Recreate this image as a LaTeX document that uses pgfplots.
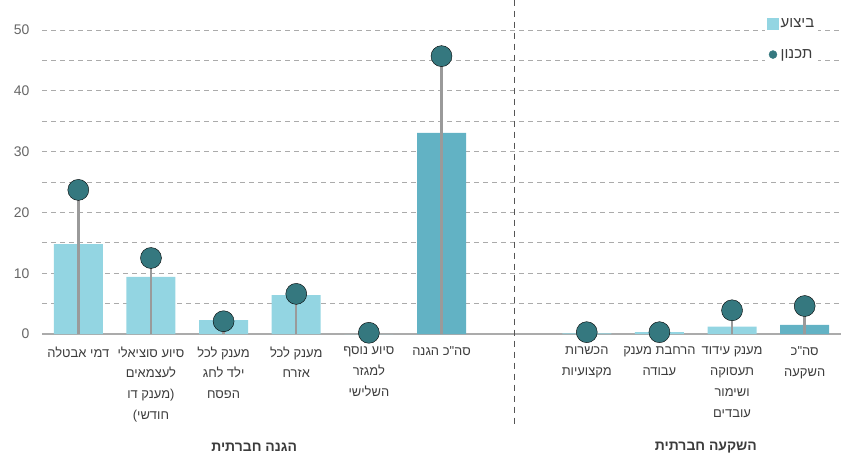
\documentclass[border=0pt]{standalone}
\usepackage{fontspec}
\setmainfont{Liberation Sans}
\newfontfamily\hebfont[Script=Hebrew]{Liberation Sans}
\TeXXeTstate=1
\usepackage{pgfplots}
\pgfplotsset{compat=1.18}
\newcommand\heb[1]{{\hebfont\beginR #1\endR}}
\definecolor{barlight}{HTML}{93D5E2}
\definecolor{bardark}{HTML}{62B2C4}
\definecolor{dotcol}{HTML}{35787F}
\definecolor{stemcol}{HTML}{9A9A9A}
\definecolor{gridcol}{HTML}{ABABAB}
\definecolor{ticktext}{HTML}{666666}
\definecolor{labtext}{HTML}{3C3C3C}
\definecolor{sepcol}{HTML}{555555}

\begin{document}
\begin{tikzpicture}
\useasboundingbox (-42bp,-125bp) rectangle (799bp,334bp);
\begin{axis}[
    scale only axis,
    width=799bp, height=304bp,
    xmin=-0.5, xmax=10.5,
    ymin=0, ymax=50,
    clip=false,
    axis x line*=bottom,
    axis y line*=left,
    y axis line style={draw=none},
    x axis line style={gridcol, line width=1.5bp},
    ytick={0,10,...,50},
    minor ytick={5,15,...,45},
    ymajorgrids, yminorgrids,
    major grid style={gridcol, dash pattern=on 5bp off 4bp, line width=0.8bp},
    minor grid style={gridcol, dash pattern=on 5bp off 4bp, line width=0.8bp},
    major tick length=0pt, minor tick length=0pt,
    /pgf/number format/assume math mode=true,
    yticklabel style={text=ticktext, font=\fontsize{14}{16}\selectfont, xshift=-9bp},
    xtick={0,1,2,3,4,5,7,8,9,10},
    xticklabels={
        {\heb{דמי אבטלה}},
        {\heb{סיוע סוציאלי}\\\heb{לעצמאים}\\\heb{(מענק דו}\\\heb{חודשי)}},
        {\heb{מענק לכל}\\\heb{ילד לחג}\\\heb{הפסח}},
        {\heb{מענק לכל}\\\heb{אזרח}},
        {\heb{סיוע נוסף}\\\heb{למגזר}\\\heb{השלישי}},
        {\heb{סה"כ הגנה}},
        {\heb{הכשרות}\\\heb{מקצועיות}},
        {\heb{הרחבת מענק}\\\heb{עבודה}},
        {\heb{מענק עידוד}\\\heb{תעסוקה}\\\heb{ושימור}\\\heb{עובדים}},
        {\heb{סה"כ}\\\heb{השקעה}}
    },
    xticklabel style={align=center, text=labtext, anchor=north, yshift=-9bp,
        font=\fontsize{13}{21}\selectfont},
    legend style={at={(0.905,1.052)}, anchor=north west, draw=none, fill=white,
        font=\fontsize{15}{17}\selectfont, text=labtext, row sep=17bp,
        inner sep=2bp},
    legend cell align=left,
]
\addlegendimage{legend image code/.code={\fill[barlight] (0bp,-5.5bp) rectangle (11bp,5.5bp);}}
\addlegendentry{\heb{ביצוע}}
\addlegendimage{legend image code/.code={\fill[dotcol] (5.5bp,0.5bp) circle (4bp);}}
\addlegendentry{\heb{תכנון}}

% execution bars
\addplot[forget plot, ybar, bar width=49bp, bar shift=0pt, fill=barlight, draw=none]
  coordinates {(0,14.8) (1,9.4) (2,2.3) (3,6.4) (4,0) (7,0.1) (8,0.3) (9,1.2)};
\addplot[forget plot, ybar, bar width=49bp, bar shift=0pt, fill=bardark, draw=none]
  coordinates {(5,33.1) (10,1.5)};

% planning: stems and dots
\addplot[forget plot, ycomb, stemcol, line width=2.5bp, mark=none]
  coordinates {(0,23.7) (1,12.5) (2,2.1) (3,6.6) (4,0.2) (5,45.7) (7,0.3) (8,0.3) (9,3.9) (10,4.6)};
\addplot[forget plot, only marks, mark=*, mark size=10.5bp, mark options={fill=dotcol, draw=none}]
  coordinates {(0,23.7) (1,12.5) (2,2.1) (3,6.6) (4,0.2) (5,45.7) (7,0.3) (8,0.3) (9,3.9) (10,4.6)};

\draw[sepcol, dash pattern=on 6bp off 5bp, line width=1.2bp] (axis cs:6,55) -- (axis cs:6,-15);
\node[font=\hebfont\bfseries\fontsize{14}{16}\selectfont, text=labtext] at (axis cs:2.42,-18.6) {\beginR הגנה חברתית\endR};
\node[font=\hebfont\bfseries\fontsize{14}{16}\selectfont, text=labtext] at (axis cs:8.64,-18.6) {\beginR השקעה חברתית\endR};
\end{axis}
\end{tikzpicture}
\end{document}
